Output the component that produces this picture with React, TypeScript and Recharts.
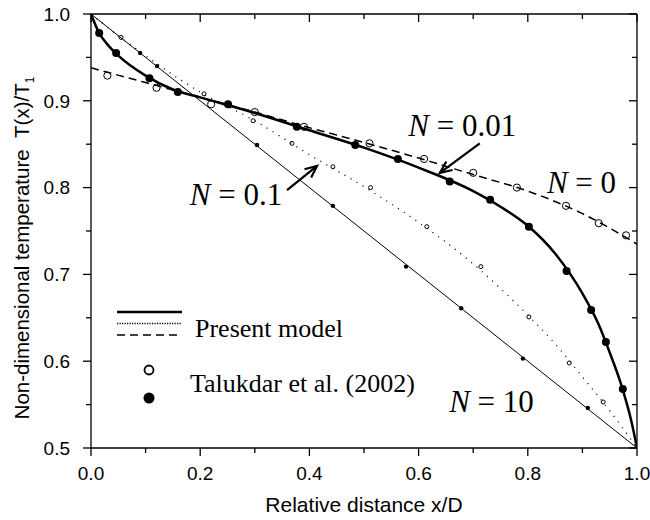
import { ComposedChart, Legend, Line, ReferenceDot, ReferenceLine, Scatter, XAxis, YAxis } from 'recharts'

const SANS = 'Liberation Sans, Arial, sans-serif'
const SERIF = 'Liberation Serif, Times New Roman, serif'

const toXY = (a: number[][]) => a.map(([x, y]) => ({ x, y }))

// present model curves, x/D vs T(x)/T1
const n0Curve = toXY([
  [0, 0.938], [0.1, 0.921], [0.2, 0.904], [0.3, 0.887], [0.4, 0.869], [0.5, 0.852],
  [0.6, 0.834], [0.7, 0.815], [0.8, 0.796], [0.9, 0.77], [1.0, 0.735],
])
const n001Curve = toXY([
  [0, 1.0], [0.015, 0.978], [0.03, 0.965], [0.05, 0.952], [0.1, 0.929], [0.15, 0.913],
  [0.2, 0.904], [0.3, 0.886], [0.4, 0.866], [0.5, 0.846], [0.6, 0.823], [0.7, 0.796],
  [0.75, 0.778], [0.8, 0.756], [0.85, 0.724], [0.9, 0.678], [0.93, 0.642], [0.95, 0.61],
  [0.97, 0.575], [0.99, 0.53], [1.0, 0.5],
])
const n01Curve = toXY([
  [0, 1.0], [0.05, 0.975], [0.1, 0.952], [0.15, 0.93], [0.2, 0.91], [0.3, 0.877],
  [0.4, 0.838], [0.5, 0.801], [0.6, 0.76], [0.7, 0.712], [0.8, 0.653], [0.85, 0.62],
  [0.9, 0.582], [0.95, 0.543], [1.0, 0.5],
])
const n10Curve = toXY([[0, 1.0], [1.0, 0.5]])

// Talukdar et al. (2002)
const n0Pts = toXY([
  [0.03, 0.929], [0.12, 0.915], [0.22, 0.896], [0.3, 0.887], [0.39, 0.87], [0.51, 0.851],
  [0.61, 0.833], [0.7, 0.817], [0.78, 0.8], [0.87, 0.779], [0.93, 0.759], [0.98, 0.745],
])
const n001Pts = toXY([
  [0.015, 0.978], [0.046, 0.955], [0.107, 0.926], [0.159, 0.91], [0.251, 0.896],
  [0.377, 0.87], [0.484, 0.849], [0.562, 0.833], [0.657, 0.807], [0.731, 0.786],
  [0.802, 0.755], [0.871, 0.704], [0.916, 0.659], [0.943, 0.622], [0.974, 0.568],
])
const n01Pts = toXY([
  [0.055, 0.973], [0.207, 0.908], [0.297, 0.877], [0.368, 0.851], [0.443, 0.824],
  [0.512, 0.8], [0.615, 0.755], [0.714, 0.709], [0.802, 0.651], [0.876, 0.598], [0.938, 0.553],
])
const n10Pts = toXY([
  [0.09, 0.955], [0.121, 0.94], [0.304, 0.849], [0.443, 0.779], [0.577, 0.709],
  [0.678, 0.661], [0.791, 0.603], [0.91, 0.546],
])

const xTicks = [0, 0.1, 0.2, 0.3, 0.4, 0.5, 0.6, 0.7, 0.8, 0.9, 1.0]
const xMajor = [0, 0.2, 0.4, 0.6, 0.8, 1.0]
const yTicks = [0.5, 0.55, 0.6, 0.65, 0.7, 0.75, 0.8, 0.85, 0.9, 0.95, 1.0]
const yMajor = [0.5, 0.6, 0.7, 0.8, 0.9, 1.0]

const curveLabels = [
  { n: '0.01', x: 0.581, y: 0.859 },
  { n: '0', x: 0.835, y: 0.794 },
  { n: '0.1', x: 0.181, y: 0.78 },
  { n: '10', x: 0.656, y: 0.541 },
]
const arrows = [
  { x1: 0.712, y1: 0.851, x2: 0.639, y2: 0.817 },
  { x1: 0.359, y1: 0.797, x2: 0.414, y2: 0.825 },
]

const isMajor = (v: number, list: number[]) => list.some((m) => Math.abs(m - v) < 1e-6)
const AX = { stroke: '#000', strokeWidth: 1.3 }
const MINOR = 5
const EXTRA = 3 // major ticks are MINOR + EXTRA long

// built-in tick line draws MINOR px, the custom tick adds the rest for majors
const BottomTick = (p: any) => {
  const major = isMajor(p.payload.value, xMajor)
  if (!major) return <g />
  return (
    <g>
      <line x1={p.x} x2={p.x} y1={p.y} y2={p.y + EXTRA} {...AX} />
      <text x={p.x} y={p.y + 27} textAnchor="middle" fontSize={19} fontFamily={SANS} fill="#000" stroke="none">
        {p.payload.value.toFixed(1)}
      </text>
    </g>
  )
}
const TopTick = (p: any) => {
  const major = isMajor(p.payload.value, xMajor)
  if (!major) return <g />
  return <line x1={p.x} x2={p.x} y1={p.y} y2={p.y + EXTRA} {...AX} />
}
const LeftTick = (p: any) => {
  const major = isMajor(p.payload.value, yMajor)
  if (!major) return <g />
  return (
    <g>
      <line x1={p.x - EXTRA} x2={p.x} y1={p.y} y2={p.y} {...AX} />
      <text x={p.x - 16} y={p.y} dy="0.36em" textAnchor="end" fontSize={19} fontFamily={SANS} fill="#000" stroke="none">
        {p.payload.value.toFixed(1)}
      </text>
    </g>
  )
}
const RightTick = (p: any) => {
  const major = isMajor(p.payload.value, yMajor)
  if (!major) return <g />
  return <line x1={p.x - EXTRA} x2={p.x} y1={p.y} y2={p.y} {...AX} />
}

const XTitle = (p: any) => {
  const vb = p.viewBox
  return (
    <text x={vb.x + vb.width / 2} y={vb.y + 64} textAnchor="middle" fontSize={21} fontFamily={SANS} fill="#000">
      Relative distance x/D
    </text>
  )
}
const YTitle = (p: any) => {
  const vb = p.viewBox
  const cx = 29
  const cy = vb.y + vb.height / 2 + 17
  return (
    <text x={cx} y={cy} transform={`rotate(-90 ${cx} ${cy})`} textAnchor="middle" fontSize={20.5} fontFamily={SANS} fill="#000">
      <tspan>Non-dimensional temperature{'\u00A0\u00A0'}T(x)/T</tspan>
      <tspan dy={5} fontSize={12}>1</tspan>
    </text>
  )
}

const ArrowShape = (p: any) => {
  const { x1, y1, x2, y2 } = p
  const a = Math.atan2(y2 - y1, x2 - x1)
  const L = 13
  const s = 0.42
  const h1 = `${x2 - L * Math.cos(a - s)},${y2 - L * Math.sin(a - s)}`
  const h2 = `${x2 - L * Math.cos(a + s)},${y2 - L * Math.sin(a + s)}`
  return (
    <g stroke="#000" strokeWidth={2.2} fill="none">
      <line x1={x1} y1={y1} x2={x2} y2={y2} />
      <polyline points={`${h1} ${x2},${y2} ${h2}`} />
    </g>
  )
}

const openDot = (r: number) => (p: any) => <circle cx={p.cx} cy={p.cy} r={r} fill="none" stroke="#000" strokeWidth={1} />
const fullDot = (r: number) => (p: any) => <circle cx={p.cx} cy={p.cy} r={r} fill="#000" />

const LegendBox = () => (
  <svg width={340} height={120} style={{ display: 'block' }}>
    <line x1={17} x2={82} y1={22} y2={22} stroke="#000" strokeWidth={2.6} />
    <line x1={17} x2={82} y1={33.5} y2={33.5} stroke="#000" strokeWidth={1.3} strokeDasharray="1.2 1.3" />
    <line x1={17} x2={82} y1={45} y2={45} stroke="#000" strokeWidth={1.4} strokeDasharray="8 5" />
    <text x={95} y={47} fontSize={26} fontFamily={SERIF} fill="#000">Present model</text>
    <circle cx={49} cy={80} r={4.5} fill="none" stroke="#000" strokeWidth={1.8} />
    <circle cx={49} cy={108} r={5.5} fill="#000" />
    <text x={90} y={102} fontSize={26} fontFamily={SERIF} fill="#000">Talukdar et al. (2002)</text>
  </svg>
)

export default function App() {
  return (
    <div style={{ position: 'absolute', left: 0, top: 0, background: '#fff' }}>
      <ComposedChart width={650} height={520} margin={{ top: 14, right: 13, bottom: 0, left: 0 }}>
        <XAxis
          dataKey="x" type="number" domain={[0, 1]} ticks={xTicks} interval={0} allowDataOverflow
          height={72} tickSize={MINOR} tickMargin={0} tickLine={AX} tick={BottomTick} axisLine={AX}
          label={{ content: XTitle }}
        />
        <XAxis
          xAxisId="top" orientation="top" mirror dataKey="x" type="number" domain={[0, 1]} ticks={xTicks}
          interval={0} allowDataOverflow tickSize={MINOR} tickMargin={0} tickLine={AX} tick={TopTick} axisLine={AX}
        />
        <YAxis
          dataKey="y" type="number" domain={[0.5, 1]} ticks={yTicks} interval={0} allowDataOverflow
          width={91} tickSize={MINOR} tickMargin={0} tickLine={AX} tick={LeftTick} axisLine={AX}
          label={{ content: YTitle }}
        />
        <YAxis
          yAxisId="right" orientation="right" mirror dataKey="y" type="number" domain={[0.5, 1]} ticks={yTicks}
          interval={0} allowDataOverflow tickSize={MINOR} tickMargin={0} tickLine={AX} tick={RightTick} axisLine={AX}
        />
        <Line data={n10Curve} dataKey="y" type="linear" stroke="#000" strokeWidth={1} dot={false} isAnimationActive={false} />
        <Line data={n01Curve} dataKey="y" type="monotone" stroke="#000" strokeWidth={1.3} strokeDasharray="1 6" dot={false} isAnimationActive={false} />
        <Line data={n0Curve} dataKey="y" type="monotone" stroke="#000" strokeWidth={1.5} strokeDasharray="8 5" dot={false} isAnimationActive={false} />
        <Line data={n001Curve} dataKey="y" type="monotone" stroke="#000" strokeWidth={2.5} dot={false} isAnimationActive={false} />
        <Scatter data={n10Pts} dataKey="y" shape={fullDot(2.2)} isAnimationActive={false} />
        <Scatter data={n01Pts} dataKey="y" shape={openDot(2)} isAnimationActive={false} />
        <Scatter data={n0Pts} dataKey="y" shape={openDot(3.6)} isAnimationActive={false} />
        <Scatter data={n001Pts} dataKey="y" shape={fullDot(4)} isAnimationActive={false} />
        {arrows.map((a, i) => (
          <ReferenceLine key={`arr-${i}`} segment={[{ x: a.x1, y: a.y1 }, { x: a.x2, y: a.y2 }]} shape={ArrowShape} />
        ))}
        {curveLabels.map((l) => (
          <ReferenceDot
            key={`lab-${l.n}`} x={l.x} y={l.y} r={0}
            shape={(p: any) => (
              <text x={p.cx} y={p.cy} fontSize={31} fontFamily={SERIF} fill="#000">
                <tspan fontStyle="italic">N</tspan>
                <tspan> = {l.n}</tspan>
              </text>
            )}
          />
        ))}
        <Legend
          layout="vertical" align="center" verticalAlign="middle" content={LegendBox}
          wrapperStyle={{ left: 100, top: 290, width: 340, height: 120 }}
        />
      </ComposedChart>
    </div>
  )
}
